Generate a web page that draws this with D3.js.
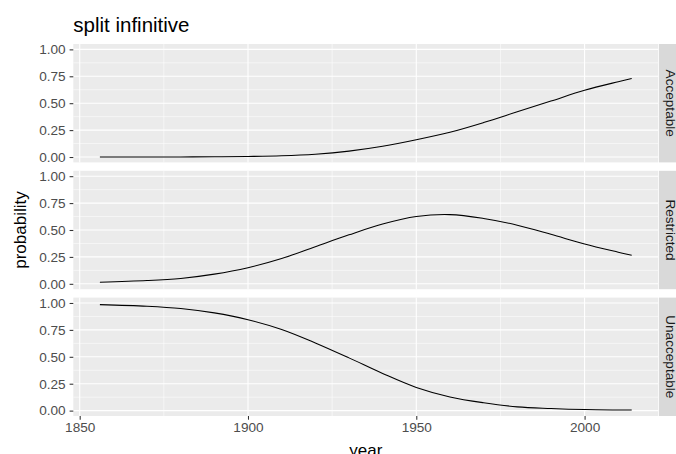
<!DOCTYPE html>
<html>
<head>
<meta charset="utf-8">
<title>split infinitive</title>
<script src="https://cdn.jsdelivr.net/npm/d3@7"></script>
<style>
  body { margin: 0; background: #fff; }
  svg text { font-family: "Liberation Sans", Arial, Helvetica, sans-serif; }
</style>
</head>
<body>
<script>
// data: predicted probability by year, one array per facet
var years        = [1856, 1870, 1880, 1890, 1900, 1910, 1920, 1930, 1940, 1950, 1960, 1970, 1980, 1990, 2000, 2010, 2014];
var acceptable   = [0.000, 0.000, 0.001, 0.002, 0.005, 0.011, 0.026, 0.055, 0.100, 0.160, 0.230, 0.320, 0.420, 0.520, 0.620, 0.700, 0.730];
var restricted   = [0.015, 0.030, 0.050, 0.090, 0.150, 0.235, 0.345, 0.455, 0.555, 0.625, 0.643, 0.607, 0.545, 0.460, 0.370, 0.294, 0.265];
var unacceptable = [0.985, 0.970, 0.949, 0.908, 0.845, 0.754, 0.629, 0.490, 0.345, 0.215, 0.127, 0.073, 0.035, 0.020, 0.010, 0.006, 0.005];
var facets = ["Acceptable", "Restricted", "Unacceptable"];
var series = [acceptable, restricted, unacceptable];
var xTicks = [1850, 1900, 1950, 2000];
var xMinor = [1875, 1925, 1975];
var yTicks = [0, 0.25, 0.5, 0.75, 1];
var yMinor = [0.125, 0.375, 0.625, 0.875];

var width = 676, height = 454;
var plotLeft = 73.3, plotRight = 658.3;
var plotTop = 44, plotBottom = 416, gap = 8.4;
var ph = (plotBottom - plotTop - 2 * gap) / 3;

var svg = d3.select("body").append("svg")
    .attr("width", width)
    .attr("height", height);

// 5% expansion like ggplot
var xr = d3.extent(years), xpad = (xr[1] - xr[0]) * 0.05;
var x = d3.scaleLinear().domain([xr[0] - xpad, xr[1] + xpad]).range([plotLeft, plotRight]);

svg.append("text")
    .attr("x", plotLeft)
    .attr("y", 31.5)
    .attr("font-size", 20.5)
    .attr("fill", "#000")
    .text("split infinitive");

facets.forEach(function(name, i) {
  var py = plotTop + i * (ph + gap);
  var y = d3.scaleLinear().domain([-0.05, 1.05]).range([py + ph, py]);
  var g = svg.append("g");

  g.append("rect")
      .attr("x", plotLeft).attr("y", py)
      .attr("width", plotRight - plotLeft).attr("height", ph)
      .attr("fill", "#EBEBEB");

  // minor grid
  g.selectAll(".ymin").data(yMinor).enter().append("line")
      .attr("x1", plotLeft).attr("x2", plotRight)
      .attr("y1", function(d) { return y(d); }).attr("y2", function(d) { return y(d); })
      .attr("stroke", "#fff").attr("stroke-width", 0.55);
  g.selectAll(".xmin").data(xMinor).enter().append("line")
      .attr("y1", py).attr("y2", py + ph)
      .attr("x1", function(d) { return x(d); }).attr("x2", function(d) { return x(d); })
      .attr("stroke", "#fff").attr("stroke-width", 0.55);
  // major grid
  g.selectAll(".ymaj").data(yTicks).enter().append("line")
      .attr("x1", plotLeft).attr("x2", plotRight)
      .attr("y1", function(d) { return y(d); }).attr("y2", function(d) { return y(d); })
      .attr("stroke", "#fff").attr("stroke-width", 1.1);
  g.selectAll(".xmaj").data(xTicks).enter().append("line")
      .attr("y1", py).attr("y2", py + ph)
      .attr("x1", function(d) { return x(d); }).attr("x2", function(d) { return x(d); })
      .attr("stroke", "#fff").attr("stroke-width", 1.1);

  // the curve
  var pts = years.map(function(yr, k) { return [yr, series[i][k]]; });
  g.append("path")
      .datum(pts)
      .attr("fill", "none")
      .attr("stroke", "#000")
      .attr("stroke-width", 1.07)
      .attr("d", d3.line()
          .x(function(d) { return x(d[0]); })
          .y(function(d) { return y(d[1]); })
          .curve(d3.curveCatmullRom.alpha(0.5)));

  // y axis
  var ya = svg.append("g")
      .attr("transform", "translate(" + plotLeft + ",0)")
      .call(d3.axisLeft(y).tickValues(yTicks).tickFormat(d3.format(".2f")).tickSize(3.7).tickPadding(4));
  ya.select(".domain").remove();
  ya.selectAll("line").attr("stroke", "#333").attr("stroke-width", 1.07);
  ya.selectAll("text").attr("fill", "#4D4D4D").attr("font-size", 13.6)
      .style("font-family", "'Liberation Sans', Arial, sans-serif");

  // strip
  svg.append("rect")
      .attr("x", plotRight + 0.7).attr("y", py)
      .attr("width", 24).attr("height", ph)
      .attr("fill", "#D9D9D9");
  svg.append("text")
      .attr("transform", "translate(" + 665.5 + "," + (py + ph / 2) + ") rotate(90)")
      .attr("text-anchor", "middle")
      .attr("font-size", 13.6)
      .attr("fill", "#1A1A1A")
      .text(name);

  if (i === facets.length - 1) {
    var xa = svg.append("g")
        .attr("transform", "translate(0," + (py + ph) + ")")
        .call(d3.axisBottom(x).tickValues(xTicks).tickFormat(d3.format("d")).tickSize(3.7).tickPadding(3));
    xa.select(".domain").remove();
    xa.selectAll("line").attr("stroke", "#333").attr("stroke-width", 1.07);
    xa.selectAll("text").attr("fill", "#4D4D4D").attr("font-size", 13.6)
        .style("font-family", "'Liberation Sans', Arial, sans-serif");
  }
});

svg.append("text")
    .attr("x", (plotLeft + plotRight) / 2)
    .attr("y", 456)
    .attr("text-anchor", "middle")
    .attr("font-size", 17)
    .attr("fill", "#000")
    .text("year");

svg.append("text")
    .attr("transform", "translate(26," + ((plotTop + plotBottom) / 2) + ") rotate(-90)")
    .attr("text-anchor", "middle")
    .attr("font-size", 17)
    .attr("fill", "#000")
    .text("probability");
</script>
</body>
</html>
